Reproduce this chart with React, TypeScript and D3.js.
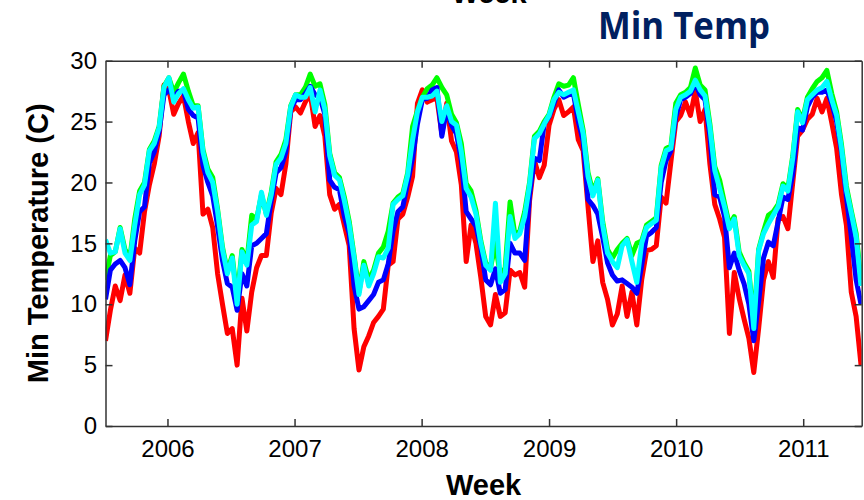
import React, { useEffect, useRef } from "react";
import * as d3 from "d3";

// weekly min temperature, sampled every two weeks from early July 2005
const yearTicks = [2006, 2007, 2008, 2009, 2010, 2011];
const tempTicks = [0, 5, 10, 15, 20, 25, 30];
const seriesColors = ["#ff0000", "#00ff00", "#0000ff", "#00ffff"];

const redSeries = [
  7.0, 9.5, 11.5, 10.3, 12.4, 10.9, 14.6, 14.2, 17.6, 19.8,
  21.5, 23.8, 28.0, 27.6, 25.6, 26.5, 27.1, 25.0, 23.2, 24.1,
  17.4, 17.8, 16.3, 12.5, 10.0, 7.6, 8.0, 5.0, 10.5, 7.8,
  11.0, 13.0, 14.0, 14.0, 17.5, 19.5, 19.0, 21.5, 25.8, 26.2,
  25.7, 26.6, 27.3, 24.6, 25.5, 23.8, 19.0, 17.8, 18.2, 16.5,
  14.8, 8.0, 4.6, 6.5, 7.4, 8.5, 9.0, 9.6, 13.2, 13.5,
  17.0, 17.4, 18.8, 20.5, 26.5, 27.6, 26.6, 26.8, 26.9, 24.0,
  26.5, 23.4, 22.5, 19.8, 13.5, 16.5, 15.0, 12.2, 9.0, 8.3,
  10.8, 9.0, 9.3, 12.8, 12.4, 12.6, 11.4, 18.5, 21.8, 20.4,
  21.4, 24.7, 26.0, 26.8, 25.5, 25.8, 26.2, 23.5, 22.6, 18.0,
  13.5, 15.2, 11.8, 10.4, 8.3, 9.2, 11.5, 9.0, 11.0, 8.3,
  12.0, 14.4, 14.5, 14.8, 18.8, 18.3, 21.7, 25.0, 25.5, 26.6,
  25.5, 27.5, 25.0, 26.0, 21.5, 18.2, 17.0, 15.5, 7.6, 12.6,
  10.5, 8.8, 7.2, 4.4, 8.0, 12.0, 13.5, 12.2, 17.0, 17.2,
  16.2, 20.0, 23.8, 24.3, 25.2, 25.6, 26.9, 25.8, 26.9, 24.9,
  22.8, 19.0, 16.5, 11.0, 9.0, 5.0,
];

const greenSeries = [
  12.0, 14.0, 14.3, 16.3, 14.5, 13.8, 17.0, 19.3, 20.0, 22.7,
  23.4, 24.6, 27.9, 28.6, 27.4, 28.2, 28.9, 27.5, 26.3, 26.3,
  22.7, 21.1, 20.4, 17.8, 14.7, 12.7, 14.0, 10.5, 14.5, 13.5,
  17.3, 17.0, 19.0, 17.4, 19.2, 21.7, 22.3, 23.5, 26.3, 27.2,
  27.2, 27.8, 28.9, 27.9, 28.1, 26.4, 22.4, 20.8, 20.4, 18.8,
  16.8, 14.0, 11.0, 13.5, 12.0, 12.8, 14.2, 14.7, 16.0, 18.3,
  18.8, 19.1, 20.8, 24.6, 25.9, 27.0, 27.7, 28.0, 28.6, 27.8,
  27.2, 25.6, 24.9, 23.2, 19.9, 19.3, 17.7, 15.2, 13.4, 13.0,
  15.0, 12.3, 13.0, 18.4, 15.7, 16.0, 17.6, 20.0, 23.8, 24.2,
  25.0, 25.6, 27.0, 28.1, 27.9, 28.0, 28.6, 26.4, 24.3, 20.8,
  19.2, 20.3, 16.8, 14.5, 13.8, 14.5, 15.0, 15.4, 14.0, 15.0,
  15.2, 16.5, 16.8, 17.1, 21.4, 22.8, 23.0, 26.5, 27.2, 27.4,
  27.8, 29.4, 28.0, 27.6, 24.8, 21.3, 20.2, 18.3, 16.5, 17.2,
  14.3, 13.4, 12.7, 8.5, 14.5, 16.0, 17.3, 17.6, 18.2, 19.9,
  19.5, 22.2, 26.0, 25.1, 27.0, 27.7, 28.3, 28.6, 29.2, 27.3,
  25.8, 23.1, 19.7, 17.7, 15.8, 12.0,
];

const blueSeries = [
  10.4, 12.8, 13.3, 13.6, 13.0, 11.6, 15.2, 17.6, 18.0, 21.6,
  22.5, 24.2, 27.2, 27.6, 27.0, 27.5, 27.5, 26.0, 25.5, 25.3,
  21.4, 20.0, 18.9, 16.4, 13.6, 11.7, 11.4, 9.5, 12.5, 11.5,
  14.8, 15.0, 15.4, 15.8, 18.5, 20.8, 21.2, 22.5, 26.0, 26.8,
  26.8, 27.3, 27.9, 27.2, 27.0, 25.6, 20.2, 19.6, 19.4, 17.2,
  15.8, 11.5, 9.6, 9.8, 10.3, 10.8, 11.8, 12.0, 13.3, 16.0,
  17.6, 18.0, 20.0, 22.0, 24.8, 26.8, 26.9, 27.6, 27.8, 23.8,
  26.0, 24.7, 24.0, 21.8, 17.6, 17.0, 16.4, 14.7, 12.0, 11.6,
  12.9, 10.9, 11.2, 15.0, 14.2, 14.2, 13.6, 19.0, 22.0, 21.8,
  24.8, 25.4, 26.5, 27.6, 27.0, 27.2, 27.3, 25.0, 23.4, 18.6,
  18.1, 17.4, 15.5, 13.4, 12.4, 11.9, 12.0, 11.7, 11.4, 10.9,
  13.2, 15.6, 15.9, 16.3, 20.0, 21.8, 22.6, 25.4, 26.8, 27.0,
  27.3, 28.1, 27.2, 26.8, 23.8, 19.0, 18.8, 17.2, 13.0, 14.2,
  12.8, 11.7, 10.0, 7.0, 10.2, 13.8, 15.1, 14.8, 16.8, 18.8,
  18.6, 20.7, 24.5, 24.3, 26.2, 27.0, 27.4, 27.4, 27.6, 26.5,
  25.0, 22.5, 18.8, 15.6, 12.0, 10.0,
];

const cyanSeries = [
  15.3, 14.2, 14.3, 16.2, 14.2, 13.6, 16.5, 19.0, 19.8, 22.6,
  23.2, 24.5, 27.8, 28.6, 26.6, 27.3, 27.7, 26.8, 26.1, 26.2,
  22.5, 20.8, 20.0, 17.6, 14.5, 12.5, 13.8, 10.0, 14.3, 13.2,
  16.5, 16.8, 19.2, 17.3, 19.0, 21.5, 22.0, 23.2, 26.2, 27.2,
  27.0, 27.0, 27.8, 25.8, 27.6, 26.0, 22.2, 20.6, 20.2, 18.5,
  16.5, 13.8, 10.8, 13.2, 11.5, 12.5, 13.9, 13.8, 14.6, 18.2,
  18.6, 18.9, 20.6, 23.5, 25.8, 27.0, 27.0, 27.1, 27.5, 25.0,
  26.3, 25.0, 24.7, 22.5, 19.5, 18.8, 17.4, 15.0, 13.2, 12.8,
  18.3, 11.8, 12.5, 17.2, 15.4, 15.8, 17.2, 19.8, 23.6, 24.0,
  24.8, 25.5, 26.8, 27.4, 27.2, 27.4, 27.6, 25.8, 24.0, 20.5,
  18.9, 20.2, 16.5, 14.2, 13.5, 13.0, 14.8, 15.3, 13.5, 11.8,
  15.0, 16.3, 16.6, 16.9, 21.2, 22.6, 22.8, 26.0, 27.0, 27.2,
  27.5, 28.4, 27.6, 27.1, 24.5, 21.0, 19.5, 18.0, 16.2, 17.0,
  14.0, 13.2, 12.5, 8.0, 14.4, 15.8, 16.6, 17.3, 18.0, 19.7,
  19.3, 22.0, 25.8, 24.9, 26.8, 27.2, 27.6, 27.8, 28.3, 26.8,
  25.5, 22.8, 19.4, 17.5, 15.5, 11.5,
];

const startDate = new Date(2005, 6, 7);
const endDate = new Date(2011, 5, 18);
const stepDays = 14;

export default function App() {
  const ref = useRef<SVGSVGElement>(null);

  useEffect(() => {
    const svg = d3.select(ref.current);
    svg.selectAll("*").remove();

    const left = 105.5, right = 861.7, top = 60.7, bottom = 426;
    const axisColor = "#333";

    const x = d3.scaleTime().domain([startDate, endDate]).range([left, right]);
    const y = d3.scaleLinear().domain([0, 30]).range([bottom, top]);
    const dates = redSeries.map((_, i) => d3.timeDay.offset(startDate, i * stepDays));

    svg.append("clipPath").attr("id", "plotclip")
      .append("rect")
      .attr("x", left).attr("y", top)
      .attr("width", right - left).attr("height", bottom - top);

    const line = d3.line<number>()
      .x((_, i) => x(dates[i]))
      .y(d => y(d));

    const all = [redSeries, greenSeries, blueSeries, cyanSeries];
    svg.append("g").attr("clip-path", "url(#plotclip)")
      .selectAll("path")
      .data(all)
      .enter()
      .append("path")
      .attr("d", d => line(d))
      .attr("fill", "none")
      .attr("stroke", (_, i) => seriesColors[i])
      .attr("stroke-width", 5)
      .attr("stroke-linejoin", "round");

    const yearDates = yearTicks.map(yr => new Date(yr, 0, 1));

    const styleAxis = (g: any) => {
      g.attr("font-family", "'Liberation Sans', Arial, sans-serif").attr("font-size", 24);
      g.select(".domain").attr("stroke", axisColor).attr("stroke-width", 1.5);
      g.selectAll(".tick line").attr("stroke", axisColor).attr("stroke-width", 1.5);
      g.selectAll(".tick text").attr("fill", "#000");
    };

    svg.append("g")
      .attr("transform", `translate(0,${bottom})`)
      .call(d3.axisBottom(x).tickValues(yearDates).tickFormat(d3.timeFormat("%Y") as any)
        .tickSize(-7).tickSizeOuter(0).tickPadding(14))
      .call(styleAxis);

    svg.append("g")
      .attr("transform", `translate(0,${top})`)
      .call(d3.axisTop(x).tickValues(yearDates).tickFormat(() => "")
        .tickSize(-7).tickSizeOuter(0))
      .call(styleAxis);

    svg.append("g")
      .attr("transform", `translate(${left},0)`)
      .call(d3.axisLeft(y).tickValues(tempTicks).tickFormat(d3.format("d"))
        .tickSize(-7).tickSizeOuter(0).tickPadding(8.5))
      .call(styleAxis);

    svg.append("g")
      .attr("transform", `translate(${right},0)`)
      .call(d3.axisRight(y).tickValues(tempTicks).tickFormat(() => "")
        .tickSize(-7).tickSizeOuter(0))
      .call(styleAxis);

    // axis titles
    svg.append("text")
      .attr("x", (left + right) / 2).attr("y", 495)
      .attr("text-anchor", "middle")
      .attr("font-family", "'Liberation Sans', Arial, sans-serif")
      .attr("font-weight", "bold").attr("font-size", 29)
      .text("Week");

    svg.append("text")
      .attr("transform", `translate(48,${(top + bottom) / 2}) rotate(-90)`)
      .attr("text-anchor", "middle")
      .attr("font-family", "'Liberation Sans', Arial, sans-serif")
      .attr("font-weight", "bold").attr("font-size", 29)
      .text("Min Temperature (C)");

    // leftover label of the chart above, cut by the crop
    svg.append("text")
      .attr("x", 489).attr("y", 3)
      .attr("text-anchor", "middle")
      .attr("font-family", "'Liberation Sans', Arial, sans-serif")
      .attr("font-weight", "bold").attr("font-size", 29)
      .text("Week");

    svg.append("text")
      .attr("x", 598).attr("y", 39)
      .attr("font-family", "'Open Sans', sans-serif")
      .attr("font-weight", "bold").attr("font-size", 37)
      .attr("textLength", 172).attr("lengthAdjust", "spacingAndGlyphs")
      .attr("fill", "#002060")
      .text("Min Temp");
  }, []);

  return (
    <div style={{ position: "absolute", left: 0, top: 0 }}>
      <svg ref={ref} width={864} height={500} />
    </div>
  );
}
